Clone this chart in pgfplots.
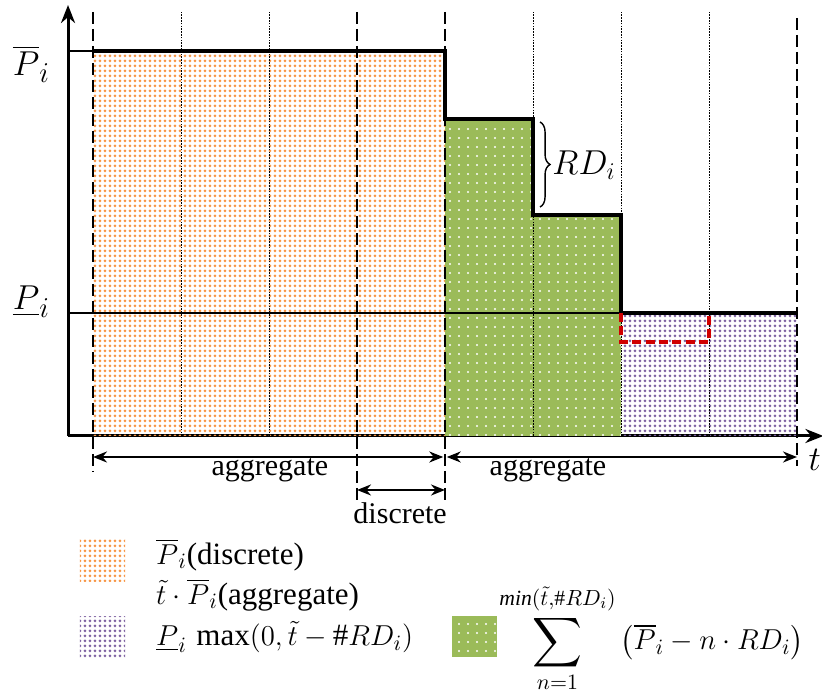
\documentclass[border=0pt]{standalone}
\usepackage{amsmath}
\usepackage{pgfplots}
\pgfplotsset{compat=1.18}
\usepackage{fontspec}
\setmainfont{Liberation Serif}
\usetikzlibrary{patterns.meta,arrows.meta,decorations.pathreplacing}
\definecolor{porange}{HTML}{F79646}
\definecolor{pgreen}{HTML}{9BBB59}
\definecolor{ppurple}{HTML}{8064A2}
\definecolor{pred}{HTML}{D00000}
\newcommand{\bigsum}{\mathop{\vcenter{\hbox{\fontsize{19}{22}\selectfont$\displaystyle\sum$}}}\limits}
\begin{document}
\fontsize{15}{18}\selectfont
\begin{tikzpicture}
\tikzset{every node/.append style={font=\fontsize{15}{18}\selectfont}}
\begin{axis}[x=44pt,y=50pt,
  xmin=-0.284, xmax=8.30, ymin=0, ymax=4.31,
  axis lines=left,
  axis line style={line width=1.5pt,-{Stealth[length=9pt,width=7pt]}},
  xtick=\empty, ytick=\empty, clip=false]
% areas
\addplot[draw=none, pattern={Dots[radius=0.75pt,distance=2.5pt]}, pattern color=porange]
  coordinates {(0,0)(0,3.85)(4,3.85)(4,0)} -- cycle;
\addplot[draw=none, fill=pgreen, postaction={pattern={Dots[radius=0.6pt,distance=4.5pt]}, pattern color=white}]
  coordinates {(4,0)(4,3.17)(5,3.17)(5,2.21)(6,2.21)(6,0)} -- cycle;
\addplot[draw=none, pattern={Dots[radius=0.75pt,distance=2.5pt]}, pattern color=ppurple]
  coordinates {(6,0)(6,1.23)(8,1.23)(8,0)} -- cycle;
% thin horizontal lines
\addplot[black, line width=0.6pt] coordinates {(-0.284,3.85)(0,3.85)};
\addplot[black, line width=0.6pt] coordinates {(-0.284,1.23)(6,1.23)};
% dotted slot lines
\pgfplotsinvokeforeach{1,2,5,6,7}{
  \addplot[black, line width=0.5pt, dash pattern=on 0.8pt off 0.6pt] coordinates {(#1,0)(#1,4.24)};
}
% dashed boundaries
\addplot[black, line width=1.4pt, dash pattern=on 6pt off 2.5pt] coordinates {(0,4.24)(0,-0.36)};
\addplot[black, line width=1.4pt, dash pattern=on 6pt off 2.5pt] coordinates {(3,4.24)(3,-0.66)};
\addplot[black, line width=1.4pt, dash pattern=on 6pt off 2.5pt] coordinates {(4,4.24)(4,-0.66)};
\addplot[black, line width=1.4pt, dash pattern=on 6pt off 2.5pt] coordinates {(8,4.18)(8,-0.30)};
% step line
\addplot[black, line width=1.7pt, line join=miter]
  coordinates {(0,3.85)(4,3.85)(4,3.17)(5,3.17)(5,2.21)(6,2.21)(6,1.23)(8,1.23)};
% red dashed box
\addplot[pred, line width=1.6pt, dash pattern=on 4.5pt off 2.2pt]
  coordinates {(6,1.23)(6,0.94)(7,0.94)(7,1.23)};
% arrows
\addplot[black, line width=1.1pt, {Stealth[length=7pt,width=5.5pt]}-{Stealth[length=7pt,width=5.5pt]}]
  coordinates {(0,-0.21)(3.98,-0.21)};
\addplot[black, line width=1.1pt, {Stealth[length=7pt,width=5.5pt]}-{Stealth[length=7pt,width=5.5pt]}]
  coordinates {(4.02,-0.21)(8,-0.21)};
\addplot[black, line width=1.1pt, {Stealth[length=7pt,width=5.5pt]}-{Stealth[length=7pt,width=5.5pt]}]
  coordinates {(3,-0.54)(4,-0.54)};
% legend squares
\addplot[draw=none, pattern={Dots[radius=0.75pt,distance=2.5pt]}, pattern color=porange]
  coordinates {(-0.148,-1.04)(0.364,-1.04)(0.364,-1.46)(-0.148,-1.46)} -- cycle;
\addplot[draw=none, pattern={Dots[radius=0.75pt,distance=2.5pt]}, pattern color=ppurple]
  coordinates {(-0.148,-1.81)(0.364,-1.81)(0.364,-2.22)(-0.148,-2.22)} -- cycle;
\addplot[draw=none, fill=pgreen, postaction={pattern={Dots[radius=0.6pt,distance=4.5pt]}, pattern color=white}]
  coordinates {(4.08,-1.80)(4.59,-1.80)(4.59,-2.21)(4.08,-2.21)} -- cycle;
% brace
\draw[decorate, decoration={brace, amplitude=5pt}, line width=0.7pt] (axis cs:5.08,3.14) -- (axis cs:5.08,2.29);
% labels
\node[font=\fontsize{18}{21}\selectfont] at (axis cs:5.58,2.71) {$RD_i$};
\node[font=\fontsize{19}{22}\selectfont] at (axis cs:-0.70,3.72) {$\overline{P}_i$};
\node[font=\fontsize{19}{22}\selectfont] at (axis cs:-0.70,1.34) {$\underline{P}_i$};
\node[font=\fontsize{18}{21}\selectfont] at (axis cs:8.2,-0.24) {$t$};
\node at (axis cs:2.01,-0.34) {aggregate};
\node at (axis cs:5.17,-0.34) {aggregate};
\node at (axis cs:3.49,-0.77) {discrete};
\node[anchor=west, font=\fontsize{15.5}{18}\selectfont] at (axis cs:0.60,-1.19) {$\overline{P}_i$(discrete)};
\node[anchor=west, font=\fontsize{15.5}{18}\selectfont] at (axis cs:0.60,-1.59) {$\tilde{t}\cdot\overline{P}_i$(aggregate)};
\node[anchor=west, font=\fontsize{15.5}{18}\selectfont] at (axis cs:0.60,-2.01) {$\underline{P}_i\,\max(0,\tilde{t}-\#RD_i)$};
\node[anchor=west, font=\fontsize{15.5}{18}\selectfont] at (axis cs:4.50,-2.02) {$\displaystyle\bigsum_{n=1}^{\mathit{min}(\tilde{t},\#RD_i)\rule[-3pt]{0pt}{3pt}}\left(\overline{P}_i-n\cdot RD_i\right)$};
\coordinate (bl) at (axis cs:-1.057,-2.60);
\coordinate (tr) at (axis cs:8.284,4.36);
\end{axis}
\pgfresetboundingbox
\path[use as bounding box] (bl) rectangle (tr);
\end{tikzpicture}
\end{document}
